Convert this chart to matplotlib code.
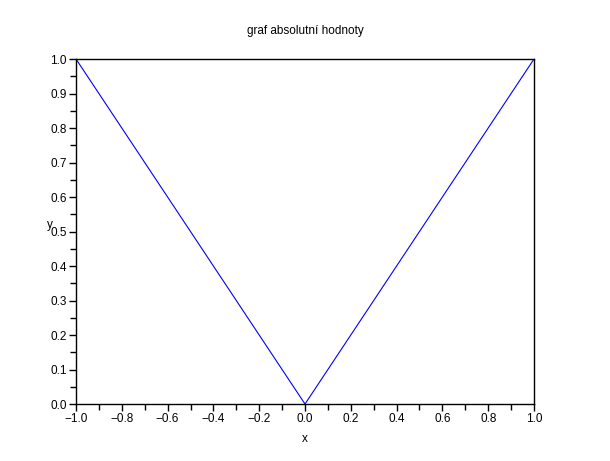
import matplotlib
matplotlib.use('Agg')
import matplotlib.pyplot as plt
from matplotlib.ticker import MultipleLocator

plt.rcParams['font.family'] = ['Liberation Sans', 'DejaVu Sans']

# data
x = [-1.0, -0.5, 0.0, 0.5, 1.0]
y = [1.0, 0.5, 0.0, 0.5, 1.0]

xticks = [-1.0, -0.8, -0.6, -0.4, -0.2, 0.0, 0.2, 0.4, 0.6, 0.8, 1.0]
yticks = [0.0, 0.1, 0.2, 0.3, 0.4, 0.5, 0.6, 0.7, 0.8, 0.9, 1.0]

fig = plt.figure(figsize=(6.1, 4.61), dpi=100)
ax = fig.add_axes([0.1246, 0.1236, 0.7508, 0.7484])
ax.plot(x, y, color='blue', linewidth=0.8)

ax.set_xlim(-1, 1)
ax.set_ylim(0, 1)
ax.set_xticks(xticks)
ax.set_xticklabels([('%.1f' % v).replace('-', '\u2212') for v in xticks])
ax.set_yticks(yticks)
ax.set_yticklabels(['%.1f' % v for v in yticks])
ax.xaxis.set_minor_locator(MultipleLocator(0.1))
ax.yaxis.set_minor_locator(MultipleLocator(0.05))
ax.tick_params(which='both', direction='out', top=False, right=False, labelsize=8.5, width=1)
ax.tick_params(which='major', length=5, pad=1.5)
ax.tick_params(which='minor', length=4)
for s in ax.spines.values():
    s.set_linewidth(1)

ax.set_xlabel('x', fontsize=8.5)
ax.xaxis.set_label_coords(0.5, -0.085)
ax.set_ylabel('y', fontsize=8.5, rotation=0, ha='center', va='center')
ax.yaxis.set_label_coords(-0.058, 0.52)
ax.set_title('graf absolutní hodnoty', fontsize=8.5, pad=18)

fig.savefig('out.png', dpi=100)
